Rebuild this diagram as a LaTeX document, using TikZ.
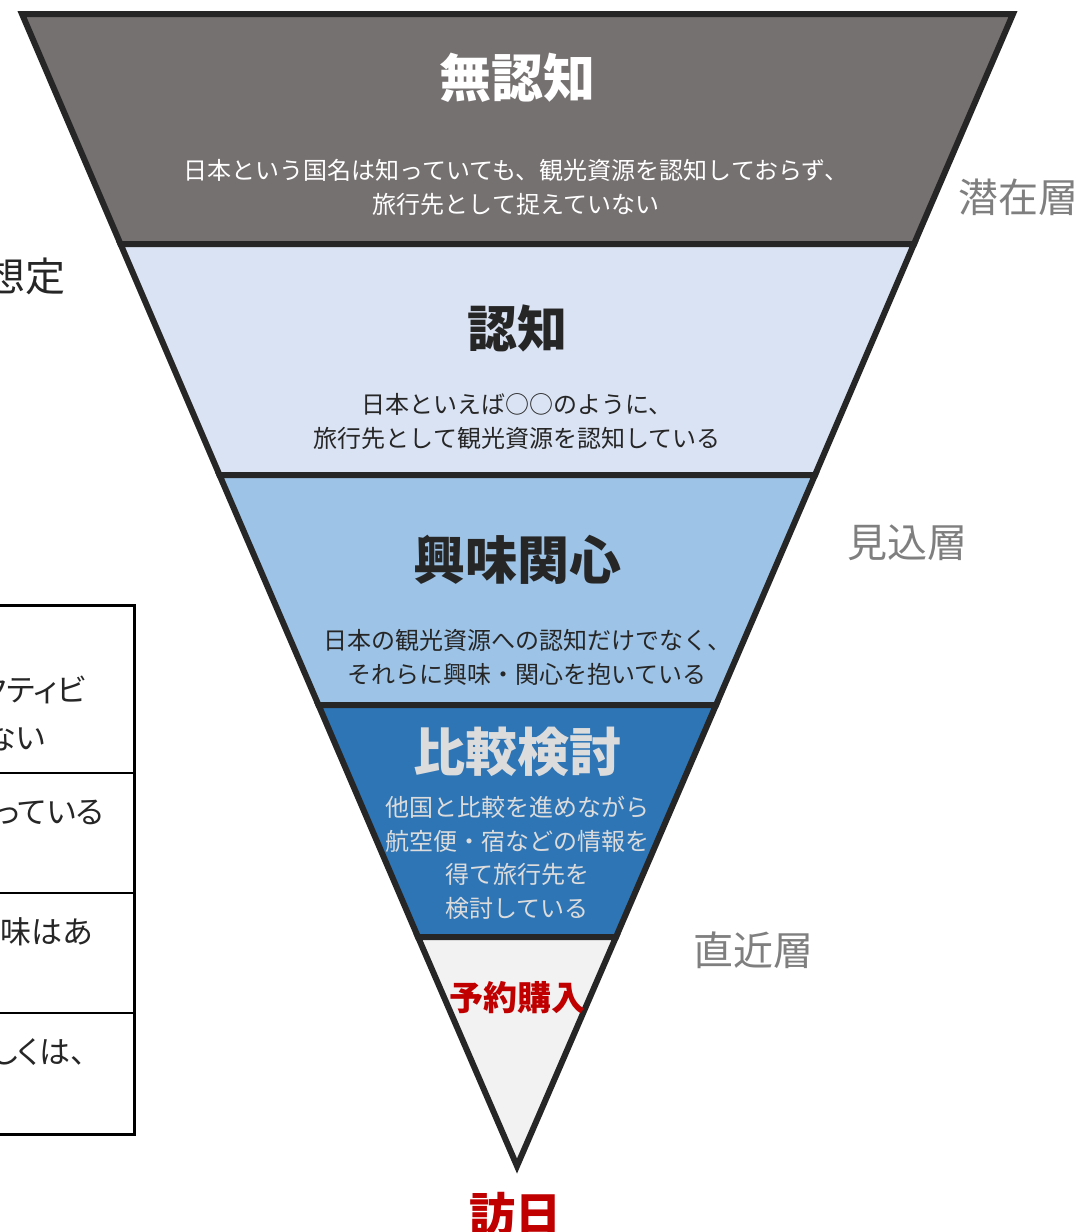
\documentclass[tikz,border=0pt]{standalone}
\usepackage{fontspec}
\newfontfamily\cjk{Noto Sans CJK JP}
\newfontfamily\cjkp{Noto Sans CJK JP}[RawFeature=+palt]
\usetikzlibrary{calc}
\definecolor{bandA}{HTML}{767171}
\definecolor{bandB}{HTML}{DAE3F3}
\definecolor{bandC}{HTML}{9DC3E6}
\definecolor{bandD}{HTML}{2E75B6}
\definecolor{bandE}{HTML}{F2F2F2}
\definecolor{edge}{HTML}{262626}
\definecolor{txtdark}{HTML}{262626}
\definecolor{txtlight}{HTML}{DCDCDC}
\definecolor{layer}{HTML}{7F7F7F}
\definecolor{redtxt}{HTML}{C00000}
\tikzset{
  band/.style={draw=edge, line width=6pt, line join=miter},
  ttl/.style={font=\cjk\bfseries\fontsize{#1}{#1}\selectfont, inner sep=0pt},
  desc/.style={font=\cjk\fontsize{24}{34}\selectfont, align=center, inner sep=0pt},
  layerlbl/.style={font=\cjk\fontsize{40}{40}\selectfont, text=layer, inner sep=0pt},
  tbltxt/.style={font=\cjkp\fontsize{31}{48}\selectfont, text=txtdark, inner sep=0pt, align=right},
  tblline/.style={draw=black, line width=2pt},
}
\begin{document}
\begin{tikzpicture}[x=1pt,y=-1pt]
\useasboundingbox (0,0) rectangle (1083,1232);
\clip (0,0) rectangle (1083,1232);
\fill[white] (0,0) rectangle (1083,1232);
% funnel corners
\coordinate (TL) at (22,14);
\coordinate (TR) at (1013,14);
\coordinate (AP) at (517,1166);
\coordinate (L1) at (120.5,244);
\coordinate (R1) at (914,244);
\coordinate (L2) at (219.5,475);
\coordinate (R2) at (815,475);
\coordinate (L3) at (318.5,705);
\coordinate (R3) at (716,705);
\coordinate (L4) at (418,937);
\coordinate (R4) at (616,937);
% bands
\filldraw[band, fill=bandA] (TL) -- (TR) -- (R1) -- (L1) -- cycle;
\filldraw[band, fill=bandB] (L1) -- (R1) -- (R2) -- (L2) -- cycle;
\filldraw[band, fill=bandC] (L2) -- (R2) -- (R3) -- (L3) -- cycle;
\filldraw[band, fill=bandD] (L3) -- (R3) -- (R4) -- (L4) -- cycle;
\filldraw[band, fill=bandE] (L4) -- (R4) -- (AP) -- cycle;
% band texts
\node[ttl=52, text=white] (t1) at (517,78) {無認知};
\node[desc, text=white] (d1) at (516,187) {日本という国名は知っていても、観光資源を認知しておらず、\\旅行先として捉えていない};
\node[ttl=50, text=txtdark] (t2) at (517,328) {認知};
\node[desc, text=txtdark] (d2) at (517,421) {日本といえば○○のように、\\旅行先として観光資源を認知している};
\node[ttl=52, text=txtdark] (t3) at (517,560) {興味関心};
\node[desc, text=txtdark] (d3) at (527,657) {日本の観光資源への認知だけでなく、\\それらに興味・関心を抱いている};
\node[ttl=52, text=txtlight] (t4) at (517,752) {比較検討};
\node[desc, text=txtlight, font=\cjk\fontsize{24}{33.5}\selectfont] (d4) at (517,858) {他国と比較を進めながら\\航空便・宿などの情報を\\得て旅行先を\\検討している};
\node[ttl=34, text=redtxt] (t5) at (517,998) {予約購入};
\node[ttl=46, text=redtxt] (t6) at (515,1214) {訪日};
% layer labels
\node[layerlbl] (s1) at (1018,197) {潜在層};
\node[layerlbl] (s2) at (907,543) {見込層};
\node[layerlbl] (s3) at (753,950) {直近層};
% left partial elements
\node[font=\cjk\fontsize{40}{40}\selectfont, text=txtdark, inner sep=0pt, anchor=east] (lh) at (66,276) {想定};
\draw[draw=black, line width=3pt] (-10,605) rectangle (134,1134);
\coordinate (r1a) at (-10,773); \coordinate (r1b) at (134,773);
\coordinate (r2a) at (-10,893); \coordinate (r2b) at (134,893);
\coordinate (r3a) at (-10,1013); \coordinate (r3b) at (134,1013);
\draw[tblline] (r1a) -- (r1b);
\draw[tblline] (r2a) -- (r2b);
\draw[tblline] (r3a) -- (r3b);
\node[tbltxt, anchor=east] (c1a) at (86,690) {クティビ};
\node[tbltxt, anchor=east] (c1b) at (45,738) {ない};
\node[tbltxt, anchor=east] (c2) at (104,812) {っている};
\node[tbltxt, anchor=east] (c3) at (93,932) {味はあ};
\node[tbltxt, anchor=east] (c4) at (86,1052) {しくは、};
\end{tikzpicture}
\end{document}
